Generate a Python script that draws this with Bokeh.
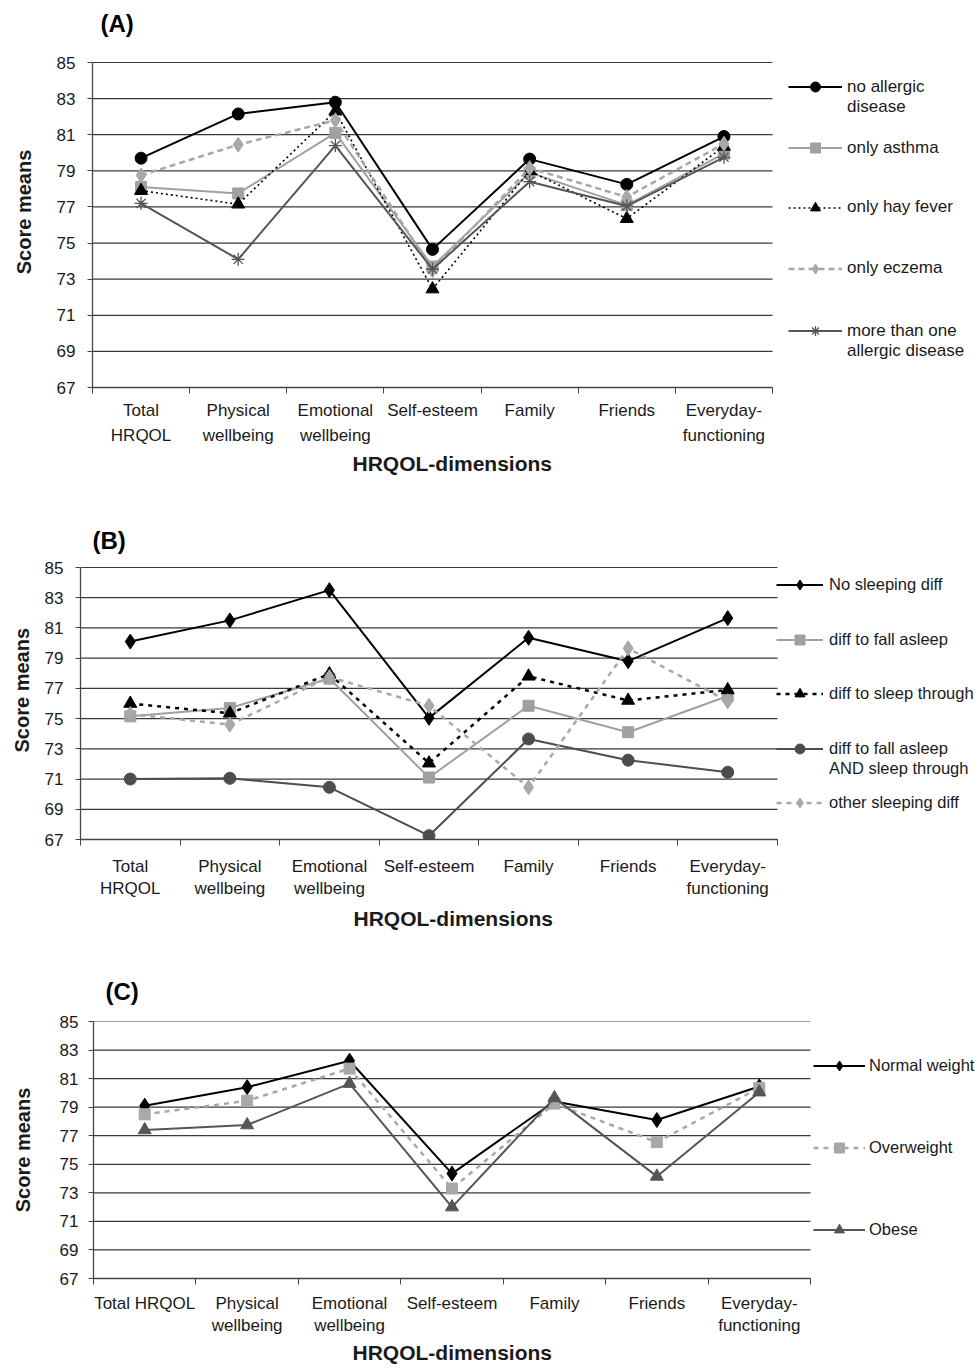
from bokeh.plotting import figure
from bokeh.models import Range1d, FixedTicker, Legend, LegendItem, Title, Label
from bokeh.embed import file_html
from bokeh.resources import INLINE

FONT = "Liberation Sans"
TXT = "#1a1a1a"
PAGE_W = 979

# ---------------- shared axis content ----------------
score_ticks = [67, 69, 71, 73, 75, 77, 79, 81, 83, 85]
dimensions_ab = ["Total\nHRQOL", "Physical\nwellbeing", "Emotional\nwellbeing",
                 "Self-esteem", "Family", "Friends", "Everyday-\nfunctioning"]
dimensions_c = ["Total HRQOL", "Physical\nwellbeing", "Emotional\nwellbeing",
                "Self-esteem", "Family", "Friends", "Everyday-\nfunctioning"]

# ---------------- (A) allergic disease ----------------
no_allergic_disease = [79.7, 82.15, 82.8, 74.65, 79.65, 78.25, 80.9]
only_asthma = [78.1, 77.75, 81.1, 73.7, 78.9, 77.1, 79.95]
only_hay_fever = [77.9, 77.15, 82.3, 72.45, 79.0, 76.35, 80.35]
only_eczema = [78.75, 80.45, 81.8, 73.5, 79.15, 77.55, 80.5]
more_than_one = [77.2, 74.1, 80.4, 73.55, 78.4, 77.05, 79.75]

# ---------------- (B) sleeping difficulties ----------------
no_sleeping_diff = [80.1, 81.5, 83.5, 75.05, 80.35, 78.8, 81.65]
diff_fall_asleep = [75.15, 75.7, 77.65, 71.1, 75.85, 74.1, 76.5]
diff_sleep_through = [76.0, 75.35, 77.95, 72.05, 77.8, 76.2, 76.9]
diff_both = [71.0, 71.05, 70.45, 67.25, 73.65, 72.25, 71.45]
other_sleeping_diff = [75.3, 74.6, 77.75, 75.85, 70.45, 79.65, 76.15]

# ---------------- (C) weight status ----------------
normal_weight = [79.1, 80.4, 82.25, 74.35, 79.4, 78.1, 80.45]
overweight = [78.5, 79.45, 81.7, 73.3, 79.25, 76.55, 80.35]
obese = [77.4, 77.75, 80.65, 72.0, 79.65, 74.15, 80.05]


def make_panel(cfg):
    cats = cfg["cats"]
    n = len(cats)
    xs = list(range(n))
    fig_top, H = cfg["fig_top"], cfg["H"]
    y85, y67, xl, xr = cfg["y85"], cfg["y67"], cfg["xl"], cfg["xr"]
    frame_top = cfg["frame_top"]
    fh = y67 - y85
    fw = xr - xl
    ymin, ymax = score_ticks[0], score_ticks[-1]
    # frame also covers the legend area on the right (and some room above)
    x_end = -0.5 + n * (PAGE_W - xl) / fw
    y_end = ymax + (ymax - ymin) * (y85 - frame_top) / fh

    def px_x(px):
        return -0.5 + n * (px - xl) / fw

    def px_y(py):
        return ymin + (ymax - ymin) * (y67 - py) / fh

    p = figure(width=PAGE_W, height=H, x_range=Range1d(-0.5, x_end),
               y_range=Range1d(ymin, y_end),
               title=cfg["title"] if cfg["letter_mode"] == "title" else None,
               output_backend="svg", toolbar_location=None,
               min_border_left=xl, min_border_right=0,
               min_border_top=frame_top - fig_top, min_border_bottom=fig_top + H - y67)
    p.outline_line_color = None
    p.background_fill_color = "white"
    p.border_fill_color = "white"

    # panel letter
    if cfg["letter_mode"] == "title":
        p.title.align = "left"
        p.title.offset = cfg["letter_x"] - xl
        p.title.standoff = cfg["letter_standoff"]
        p.title.text_font = FONT
        p.title.text_font_size = "24px"
        p.title.text_font_style = "bold"
        p.title.text_color = "black"
    else:
        p.add_layout(Label(x=px_x(cfg["letter_x"]), y=px_y(cfg["letter_y"]), text=cfg["title"],
                           text_align="left", text_baseline="middle", text_font=FONT,
                           text_font_size="24px", text_font_style="bold", text_color="black"))

    # horizontal grid lines, limited to the plotting area
    p.xgrid.visible = False
    p.ygrid.visible = False
    p.segment(x0=[-0.5] * len(score_ticks), x1=[n - 0.5] * len(score_ticks),
              y0=score_ticks, y1=score_ticks, line_color="#3a3a3a", line_width=1.2)

    # x axis
    xa = p.xaxis[0]
    xa.bounds = (-0.5, n - 0.5)
    xa.ticker = FixedTicker(ticks=xs, minor_ticks=[i - 0.5 for i in range(n + 1)])
    xa.major_label_overrides = {i: c for i, c in enumerate(cats)}
    xa.major_tick_in = 0
    xa.major_tick_out = 0
    xa.minor_tick_in = 0
    xa.minor_tick_out = 6
    xa.minor_tick_line_color = "#444444"
    xa.axis_line_color = "#444444"
    xa.axis_line_width = 1.3
    xa.major_label_text_font = FONT
    xa.major_label_text_font_size = "17px"
    xa.major_label_text_color = TXT
    xa.major_label_standoff = cfg["xlab_standoff"]
    xa.major_label_text_line_height = cfg["xlab_lh"]

    # y axis
    ya = p.yaxis[0]
    ya.bounds = (ymin, ymax)
    ya.ticker = FixedTicker(ticks=score_ticks)
    ya.major_tick_in = 0
    ya.major_tick_out = 5
    ya.major_tick_line_color = "#444444"
    ya.axis_line_color = "#444444"
    ya.axis_line_width = 1.3
    ya.major_label_text_font = FONT
    ya.major_label_text_font_size = "17px"
    ya.major_label_text_color = TXT
    ya.major_label_standoff = cfg["ylab_standoff"]

    # axis titles
    p.add_layout(Title(text="HRQOL-dimensions", align="left", vertical_align="top",
                       offset=cfg["xt_x"] - xl, standoff=cfg["xt_standoff"],
                       text_font=FONT, text_font_size="21px",
                       text_font_style="bold", text_color=TXT), "below")
    if cfg["yt_mode"] == "axis":
        # centred on the frame, whose vertical extent is chosen for that
        ya.axis_label = "Score means"
        ya.axis_label_standoff = cfg["yt_standoff"]
        ya.axis_label_text_font = FONT
        ya.axis_label_text_font_size = "20px"
        ya.axis_label_text_font_style = "bold"
        ya.axis_label_text_color = TXT
    else:
        p.add_layout(Title(text="Score means", align="left", vertical_align="middle",
                           offset=y67 - cfg["yt_y"], standoff=cfg["yt_standoff"],
                           text_font=FONT, text_font_size="20px",
                           text_font_style="bold", text_color=TXT), "left")

    dummy = p.line(x=[], y=[], line_alpha=0)

    rends = []
    for s in cfg["series"]:
        rl = p.line(xs, s["values"], line_color=s["color"], line_width=s["lw"],
                    line_dash=s["dash"])
        rm = p.scatter(xs, s["values"], marker=s["marker"], size=s["size"],
                       fill_color=s["color"], line_color=s["color"],
                       line_width=s.get("mlw", 1))
        rends.append([rl, rm])

    lg = cfg["legend"]
    gh = 25
    for s, r in zip(cfg["series"], rends):
        for i, t in enumerate(s["label"].split("\n")):
            cy = s["ly"] + i * lg["gap"]
            leg = Legend(items=[LegendItem(label=t, renderers=r if i == 0 else [dummy])],
                         location=(lg["x"] - xl, y67 - cy - gh / 2),
                         glyph_width=lg["gw"], glyph_height=gh, label_height=gh,
                         label_standoff=lg["standoff"], padding=0, margin=0, spacing=0,
                         border_line_alpha=0, background_fill_alpha=0,
                         label_text_font=FONT, label_text_font_size=lg["fs"],
                         label_text_color=TXT)
            p.add_layout(leg)
    return p


BLACK = "#000000"
LGRAY = "#a0a0a0"
EGRAY = "#a8a8a8"
DGRAY = "#555555"

cfg_a = dict(
    title="(A)", letter_mode="title", letter_x=100, letter_y=24, letter_standoff=0,
    fig_top=0, frame_top=36, H=482, y85=62, y67=387, xl=92, xr=772, cats=dimensions_ab,
    xlab_standoff=7, xlab_lh=1.33, ylab_standoff=12,
    xt_x=352, xt_standoff=8.8,
    yt_mode="axis", yt_y=270, yt_standoff=19,
    legend=dict(x=788, gw=54, standoff=5, fs="17px", gap=20),
    series=[
        dict(label="no allergic\ndisease", values=no_allergic_disease, color=BLACK, lw=2,
             dash="solid", marker="circle", size=12, ly=86.5),
        dict(label="only asthma", values=only_asthma, color=LGRAY, lw=2,
             dash="solid", marker="square", size=11, ly=147.5),
        dict(label="only hay fever", values=only_hay_fever, color=BLACK, lw=1.6,
             dash="2 3", marker="triangle", size=13, ly=207.2),
        dict(label="only eczema", values=only_eczema, color=EGRAY, lw=2.5,
             dash="6 4", marker="diamond", size=15, ly=268.2),
        dict(label="more than one\nallergic disease", values=more_than_one, color=DGRAY, lw=2,
             dash="solid", marker="asterisk", size=13, mlw=1.3, ly=330.5),
    ],
)

cfg_b = dict(
    title="(B)", letter_mode="label", letter_x=92, letter_y=540, letter_standoff=0,
    fig_top=482, frame_top=482, H=461, y85=567, y67=839, xl=80, xr=777, cats=dimensions_ab,
    xlab_standoff=11, xlab_lh=1.16, ylab_standoff=12,
    xt_x=353, xt_standoff=13.8,
    yt_mode="title", yt_y=752, yt_standoff=16,
    legend=dict(x=776, gw=47, standoff=6, fs="16.5px", gap=20),
    series=[
        dict(label="No sleeping diff", values=no_sleeping_diff, color=BLACK, lw=2,
             dash="solid", marker="diamond", size=15, ly=584),
        dict(label="diff to fall asleep", values=diff_fall_asleep, color=LGRAY, lw=2,
             dash="solid", marker="square", size=11, ly=639),
        dict(label="diff to sleep through", values=diff_sleep_through, color=BLACK, lw=2.5,
             dash="4 5", marker="triangle", size=13, ly=693.3),
        dict(label="diff to fall asleep\nAND sleep through", values=diff_both, color="#4d4d4d",
             lw=2, dash="solid", marker="circle", size=12, ly=748.3),
        dict(label="other sleeping diff", values=other_sleeping_diff, color=EGRAY, lw=2.5,
             dash="5 5", marker="diamond", size=15, ly=802.3),
    ],
)

cfg_c = dict(
    title="(C)", letter_mode="title", letter_x=105, letter_y=992.5, letter_standoff=33,
    fig_top=943, frame_top=1021, H=425, y85=1021, y67=1278, xl=93, xr=810, cats=dimensions_c,
    xlab_standoff=9, xlab_lh=1.21, ylab_standoff=10,
    xt_x=352, xt_standoff=4,
    yt_mode="axis", yt_y=1210, yt_standoff=23,
    legend=dict(x=813, gw=52, standoff=4, fs="16.5px", gap=20),
    series=[
        dict(label="Normal weight", values=normal_weight, color=BLACK, lw=2,
             dash="solid", marker="diamond", size=15, ly=1065.7),
        dict(label="Overweight", values=overweight, color=EGRAY, lw=2.5,
             dash="5 5", marker="square", size=11, ly=1147.3),
        dict(label="Obese", values=obese, color=DGRAY, lw=2,
             dash="solid", marker="triangle", size=13, ly=1229.3),
    ],
)

pa = make_panel(cfg_a)
pb = make_panel(cfg_b)
pc = make_panel(cfg_c)

open("out.html", "w").write(file_html([pa, pb, pc], INLINE))
